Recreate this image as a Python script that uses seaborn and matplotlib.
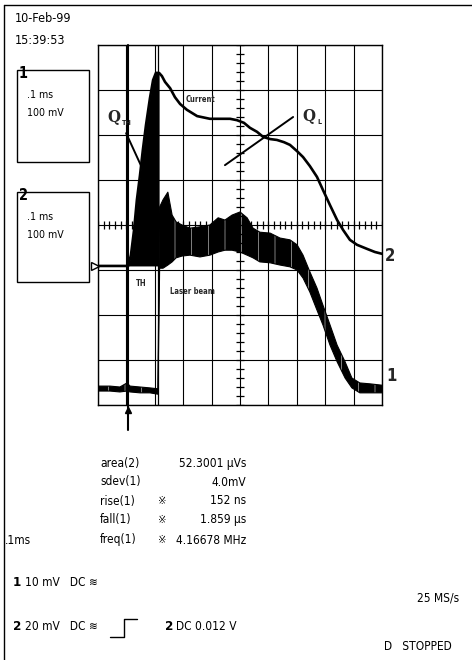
import numpy as np
import pandas as pd
import matplotlib
matplotlib.use("Agg")
import matplotlib.pyplot as plt
from matplotlib import font_manager as fm
from matplotlib.patches import Rectangle
from matplotlib.lines import Line2D
import seaborn as sns

# ---------------- data (time in µs, signal in mV, 100 mV/div) ----------------
current_t = [0, 42, 77, 106, 116, 127, 137, 148, 158, 169, 183, 194, 204, 215, 225,
             236, 254, 271, 289, 313, 349, 394, 465, 489, 514, 535, 560, 581, 606,
             630, 655, 676, 701, 722, 746, 771, 792, 817, 842, 863, 887, 912, 947,
             975, 1000]
current_mv = [-91, -91, -91, -91, -67, -11, 56, 111, 167, 222, 282, 322, 338, 338, 331,
              318, 304, 284, 269, 256, 242, 236, 236, 233, 227, 216, 207, 196, 191,
              189, 184, 178, 164, 151, 131, 107, 78, 44, 11, -11, -33, -44, -53,
              -60, -64]
area_start, area_end = 106, 215   # shaded area(2) window
current_ground = -91

laser_t = [0, 42, 77, 102, 113, 148, 183, 211, 217, 229, 246, 261, 275, 296, 324,
           359, 394, 423, 447, 472, 500, 525, 546, 570, 606, 641, 676, 701, 722,
           746, 771, 792, 817, 842, 870, 894, 922, 958, 1000]
laser_top = [-358, -358, -360, -351, -358, -360, -362, -364, 40, 56, 73, 22, 7, 0, -7,
             -4, 0, 16, 11, 22, 29, 16, -7, -16, -18, -29, -33, -44, -67,
             -104, -140, -178, -222, -267, -304, -340, -351, -353, -356]
laser_bot = [-369, -369, -371, -369, -371, -373, -373, -376, -96, -96, -89, -82, -73, -69, -67,
             -71, -67, -60, -56, -56, -60, -67, -73, -82, -84, -89, -93, -100, -118,
             -149, -189, -222, -267, -304, -340, -362, -373, -373, -373]

cursor_1 = 106
cursor_2 = 211

meas_names = ["area(2)", "sdev(1)", "rise(1)", "fall(1)", "freq(1)"]
meas_flags = ["", "", "※", "※", "※"]
meas_values = ["52.3001 µVs", "4.0mV", "152 ns", "1.859 µs", "4.16678 MHz"]

# ---------------- style ----------------
sns.set_theme(style="white")

names = {f.name for f in fm.fontManager.ttflist}
cond = [f for f in fm.fontManager.ttflist
        if f.name == "DejaVu Sans" and str(f.stretch) in ("condensed", "semi-condensed")]
if "Liberation Sans Narrow" in names:
    FAM, STRETCH, SCALE = ["Liberation Sans Narrow", "DejaVu Sans"], "normal", 1.0
elif cond:
    FAM, STRETCH, SCALE = ["DejaVu Sans", "DejaVu Sans"], "condensed", 0.95
else:
    FAM, STRETCH, SCALE = ["Liberation Sans", "DejaVu Sans"], "normal", 0.88

plt.rcParams["font.family"] = FAM
plt.rcParams["font.stretch"] = STRETCH
plt.rcParams["hatch.linewidth"] = 0.35

W, H = 472, 660
fig = plt.figure(figsize=(W / 100, H / 100), dpi=100)
fig.patch.set_facecolor("white")


def fx(x):
    return x / W


def fy(y):
    return 1 - y / H


def ft(x, y, s, size=9.0, **kw):
    kw.setdefault("va", "center")
    kw.setdefault("color", "black")
    return fig.text(fx(x), fy(y), s, fontsize=size * SCALE, **kw)


ax = fig.add_axes([fx(98), fy(405), 284 / W, 360 / H])
ax.set_xlim(0, 1000)
ax.set_ylim(-400, 400)
ax.set_xticks(np.arange(0, 1001, 100))
ax.set_yticks(np.arange(-400, 401, 100))
ax.grid(True, color="black", lw=0.8)
ax.tick_params(length=0, labelbottom=False, labelleft=False)
for sp in ax.spines.values():
    sp.set_color("black")
    sp.set_linewidth(1.0)
ax.set_facecolor("white")

# center-line minor ticks
mt = np.arange(0, 1001, 20)
ax.plot(mt, np.zeros_like(mt), ls="none", marker="|", ms=6, mew=0.9, color="black")
mv = np.arange(-400, 401, 20)
ax.plot(np.full_like(mv, 500), mv, ls="none", marker="_", ms=6, mew=0.9, color="black")

# cursors
ax.plot([cursor_1, cursor_1], [400, -455], color="black", lw=1.5, clip_on=False)
ax.plot([cursor_1], [-412], marker="^", ms=5, color="black", clip_on=False)
ax.plot([cursor_2, cursor_2], [400, -400], color="black", lw=0.9)

# laser beam (channel 1) noisy band
ax.fill_between(laser_t, laser_bot, laser_top, facecolor="black", edgecolor="white",
                hatch="|", lw=0)
ax.plot(laser_t, laser_top, color="black", lw=0.8)
ax.plot(laser_t, laser_bot, color="black", lw=0.8)

# current (channel 2) with shaded area
df = pd.DataFrame({"t": current_t, "mv": current_mv})
sel = df[(df.t >= area_start) & (df.t <= area_end)]
ax.fill_between(sel.t, sel.mv, current_ground, color="black", lw=0)
sns.lineplot(data=df, x="t", y="mv", ax=ax, color="black", lw=1.9, estimator=None)
ax.set_xlabel("")
ax.set_ylabel("")

# ground marker and channel labels
ax.plot([-10], [current_ground], marker=">", ms=6, mfc="white", mec="black", mew=1,
        clip_on=False)
ax.text(1011, -69, "2", fontsize=12, fontweight="bold", va="center", ha="left",
        clip_on=False)
ax.text(1016, -335, "1", fontsize=12, fontweight="bold", va="center", ha="left",
        clip_on=False)

# annotations
ax.text(33, 238, "Q", family="DejaVu Serif", fontsize=12, fontweight="bold",
        va="center", ha="left")
ax.text(84, 226, "TH", family="DejaVu Sans", fontsize=5, fontweight="bold",
        va="center", ha="left")
ax.plot([99, 155], [204, 127], color="black", lw=1.4)
ax.text(718, 242, "Q", family="DejaVu Serif", fontsize=12, fontweight="bold",
        va="center", ha="left")
ax.text(771, 230, "L", family="DejaVu Sans", fontsize=5, fontweight="bold",
        va="center", ha="left")
ax.plot([447, 687], [133, 240], color="black", lw=1.4)
ax.text(310, 278, "Current", family="DejaVu Sans", fontsize=5.5, fontweight="bold",
        va="center", ha="left")
ax.text(255, -147, "Laser beam", family="DejaVu Sans", fontsize=5.5, fontweight="bold",
        va="center", ha="left")
ax.text(135, -129, "TH", family="DejaVu Sans", fontsize=5.5, fontweight="bold",
        va="center", ha="left")

# outer border
fig.add_artist(Line2D([fx(4), fx(472)], [fy(5), fy(5)], color="black", lw=1.0))
fig.add_artist(Line2D([fx(4), fx(4)], [fy(5), fy(660)], color="black", lw=1.0))

# date / time
ft(15, 18, "10-Feb-99", size=9.5)
ft(15, 41, "15:39:53", size=9.5)

# channel boxes
for top, bot, ch in [(70, 162, "1"), (192, 282, "2")]:
    fig.add_artist(Rectangle((fx(17), fy(bot)), fx(89) - fx(17), fy(top) - fy(bot),
                             fill=False, ec="black", lw=1.0, transform=fig.transFigure))
    ft(19, top + 3, ch, size=11, fontweight="bold")
    ft(27, top + 25, ".1 ms", size=8)
    ft(27, top + 43, "100 mV", size=8)

# measurements
ys = [463, 482, 501, 520, 540]
for y, n, f, v in zip(ys, meas_names, meas_flags, meas_values):
    ft(100, y, n)
    if f:
        ft(158, y, f, size=8.5, family=["DejaVu Sans"])
    ft(246, y, v, ha="right")
ft(5, 540, ".1ms")

ft(13, 583, "1", size=10, fontweight="bold")
ft(25, 583, "10 mV   DC ≋")
ft(13, 627, "2", size=10, fontweight="bold")
ft(25, 627, "20 mV   DC ≋")
fig.add_artist(Line2D([fx(110), fx(124), fx(124), fx(137)],
                      [fy(637), fy(637), fy(619), fy(619)], color="black", lw=1.0))
ft(165, 627, "2", size=10, fontweight="bold")
ft(176, 627, "DC 0.012 V")
ft(459, 598, "25 MS/s", ha="right")
ft(452, 647, "D   STOPPED", ha="right")

fig.savefig("out.png", dpi=100)
